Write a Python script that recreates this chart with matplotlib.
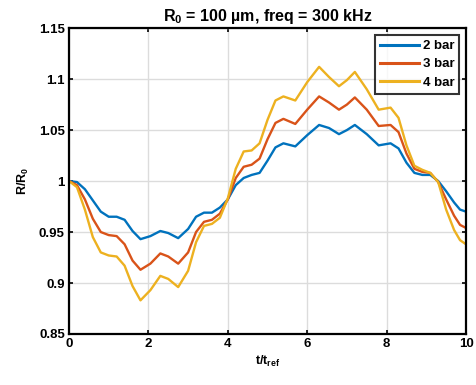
import matplotlib
matplotlib.use('Agg')
import matplotlib.pyplot as plt

t = [0, 0.2, 0.4, 0.6, 0.8, 1.0, 1.2, 1.4, 1.6, 1.8, 2.05, 2.3, 2.5, 2.75, 3.0, 3.2,
     3.4, 3.6, 3.8, 4.0, 4.2, 4.4, 4.6, 4.8, 5.0, 5.2, 5.4, 5.7, 6.0, 6.3, 6.55, 6.8,
     7.0, 7.2, 7.5, 7.8, 8.1, 8.3, 8.5, 8.7, 8.9, 9.1, 9.3, 9.5, 9.7, 9.85, 10.0]

r_2bar = [1.000, 0.999, 0.992, 0.981, 0.970, 0.965, 0.965, 0.962, 0.951, 0.943, 0.946,
          0.951, 0.949, 0.944, 0.953, 0.965, 0.969, 0.969, 0.974, 0.982, 0.996, 1.003,
          1.006, 1.008, 1.020, 1.033, 1.037, 1.034, 1.045, 1.055, 1.052, 1.046, 1.050,
          1.055, 1.046, 1.035, 1.037, 1.032, 1.018, 1.008, 1.006, 1.006, 1.000, 0.990,
          0.979, 0.972, 0.970]

r_3bar = [1.000, 0.996, 0.982, 0.963, 0.950, 0.947, 0.946, 0.938, 0.922, 0.913, 0.919,
          0.929, 0.926, 0.919, 0.930, 0.950, 0.960, 0.962, 0.968, 0.982, 1.003, 1.014,
          1.016, 1.022, 1.041, 1.057, 1.061, 1.056, 1.070, 1.083, 1.077, 1.070, 1.075,
          1.082, 1.070, 1.054, 1.055, 1.048, 1.027, 1.012, 1.009, 1.008, 0.999, 0.982,
          0.966, 0.957, 0.954]

r_4bar = [1.000, 0.994, 0.972, 0.945, 0.930, 0.927, 0.926, 0.917, 0.897, 0.883, 0.893,
          0.907, 0.904, 0.896, 0.912, 0.940, 0.956, 0.958, 0.964, 0.983, 1.012, 1.029,
          1.030, 1.037, 1.060, 1.079, 1.083, 1.079, 1.097, 1.112, 1.102, 1.093, 1.099,
          1.107, 1.090, 1.070, 1.072, 1.062, 1.035, 1.015, 1.011, 1.008, 0.999, 0.972,
          0.952, 0.942, 0.938]

labels = ['2 bar', '3 bar', '4 bar']
colors = ['#0072BD', '#D95319', '#EDB120']

plt.rcParams['font.family'] = ['Liberation Sans', 'DejaVu Sans']
plt.rcParams['font.weight'] = 'bold'
plt.rcParams['mathtext.fontset'] = 'custom'
plt.rcParams['mathtext.rm'] = 'Liberation Sans:bold'
plt.rcParams['mathtext.bf'] = 'Liberation Sans:bold'
plt.rcParams['mathtext.it'] = 'Liberation Sans:bold'
plt.rcParams['mathtext.default'] = 'bf'

fig = plt.figure(figsize=(4.76, 3.85), dpi=100)
ax = fig.add_axes([0.145, 0.1325, 0.834, 0.7945])

for ys, lab, c in zip([r_2bar, r_3bar, r_4bar], labels, colors):
    ax.plot(t, ys, color=c, lw=1.7, label=lab)

ax.set_xlim(0, 10)
ax.set_ylim(0.85, 1.15)
ax.set_xticks([0, 2, 4, 6, 8, 10])
ax.set_yticks([0.85, 0.9, 0.95, 1.0, 1.05, 1.1, 1.15])
ax.set_yticklabels(['0.85', '0.9', '0.95', '1', '1.05', '1.1', '1.15'])
ax.grid(True, color='#dcdcdc', lw=1.0)
ax.set_axisbelow(True)
ax.tick_params(direction='in', top=True, right=True, labelsize=9.5, length=3, width=1.2,
               colors='black', pad=3)
for s in ax.spines.values():
    s.set_linewidth(1.6)

ax.set_title(r'R$_0$ = 100 µm, freq = 300 kHz', fontsize=11.5, fontweight='bold', pad=5)
ax.set_xlabel(r't/t$_{ref}$', fontsize=9, fontweight='bold', labelpad=3)
ax.set_ylabel(r'R/R$_0$', fontsize=9, fontweight='bold', labelpad=6)

leg = ax.legend(loc='upper right', fontsize=9.5, handlelength=2.9, frameon=True,
                fancybox=False, borderaxespad=0.5, labelspacing=0.45,
                borderpad=0.4, handletextpad=0.3)
leg.get_frame().set_edgecolor('black')
leg.get_frame().set_linewidth(1.5)
for line in leg.get_lines():
    line.set_linewidth(2.2)

fig.savefig('out.png', dpi=100)
